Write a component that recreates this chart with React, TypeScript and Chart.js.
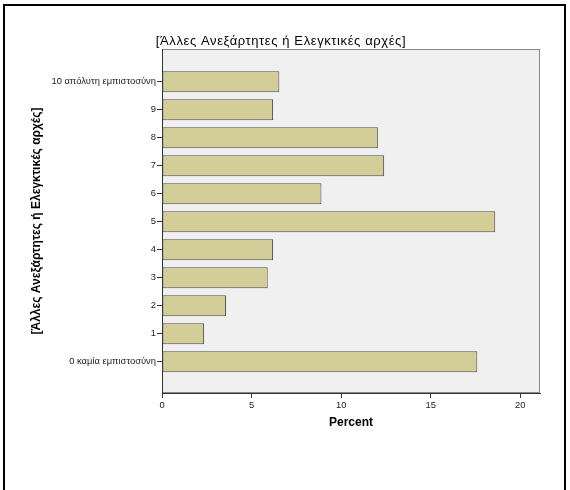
import React, { useEffect, useRef } from "react";
import { Chart, registerables } from "chart.js";

Chart.register(...registerables);

const categories = [
  "0 καμία εμπιστοσύνη",
  "1",
  "2",
  "3",
  "4",
  "5",
  "6",
  "7",
  "8",
  "9",
  "10 απόλυτη εμπιστοσύνη",
];
const percents = [17.6, 2.35, 3.57, 5.9, 6.2, 18.6, 8.9, 12.4, 12.05, 6.2, 6.55];
const xTicks = [0, 5, 10, 15, 20];
const chartTitle = "[Άλλες Ανεξάρτητες ή Ελεγκτικές αρχές]";
const xTitle = "Percent";

const FONT = "'Liberation Sans', Arial, sans-serif";

export default function App() {
  const ref = useRef<HTMLCanvasElement>(null);

  useEffect(() => {
    const canvas = ref.current;
    if (!canvas) return;
    const bgPlugin = {
      id: "plotBg",
      beforeDraw(chart: any) {
        const { ctx, chartArea: a } = chart;
        ctx.save();
        ctx.fillStyle = "#f0f0f0";
        ctx.fillRect(a.left, a.top, a.right - a.left, a.bottom - a.top);
        ctx.strokeStyle = "#8a8a8a";
        ctx.lineWidth = 1;
        ctx.strokeRect(a.left + 0.5, a.top + 0.5, a.right - a.left - 1, a.bottom - a.top - 1);
        ctx.restore();
      },
      afterDraw(chart: any) {
        const { ctx } = chart;
        ctx.save();
        ctx.font = `13px ${FONT}`;
        (ctx as any).letterSpacing = "0.6px";
        ctx.fillStyle = "#000";
        ctx.textAlign = "center";
        ctx.textBaseline = "middle";
        ctx.fillText(chartTitle, 281, 41);
        ctx.restore();
      },
    };

    const chart = new Chart(canvas, {
      type: "bar",
      data: {
        datasets: [
          {
            data: percents.map((v, i) => ({ x: v, y: i })),
            backgroundColor: "rgb(211,206,152)",
            borderColor: "#4a4a4a",
            borderWidth: 1,
            borderSkipped: false,
            barPercentage: 0.75,
            categoryPercentage: 1,
          },
        ],
      },
      options: {
        indexAxis: "y",
        responsive: false,
        animation: false,
        layout: { padding: { left: 0, top: 49, right: 30, bottom: 0 } },
        plugins: {
          legend: { display: false },
          title: { display: false },
          tooltip: { enabled: false },
        },
        scales: {
          x: {
            type: "linear",
            min: 0,
            max: 21.1,
            offset: false,
            afterBuildTicks: (s: any) => {
              s.ticks = xTicks.map((v) => ({ value: v }));
            },
            afterFit: (s: any) => {
              s.height = 97;
            },
            grid: { offset: false, drawOnChartArea: false, drawTicks: true, tickLength: 5, color: "#333" },
            border: { display: true, color: "#333", width: 1 },
            ticks: { color: "#222", font: { family: FONT, size: 9.4 }, padding: 2, maxRotation: 0 },
            title: {
              display: true,
              text: xTitle,
              color: "#000",
              font: { family: FONT, size: 12, weight: "bold" },
              padding: { top: 0, bottom: 60 },
            },
          },
          y: {
            type: "linear",
            min: -1.12,
            max: 11.17,
            offset: false,
            afterBuildTicks: (s: any) => {
              s.ticks = categories.map((_, i) => ({ value: i }));
            },
            afterFit: (s: any) => {
              s.width = 162;
            },
            grid: { offset: false, drawOnChartArea: false, drawTicks: true, tickLength: 5, color: "#333" },
            border: { display: true, color: "#333", width: 1 },
            ticks: {
              color: "#222",
              font: { family: FONT, size: 9.4 },
              padding: 1,
              autoSkip: false,
              callback: (v: any) => categories[v] ?? "",
            },
            title: {
              display: true,
              text: chartTitle,
              color: "#000",
              font: { family: FONT, size: 12, weight: "bold" },
              padding: { top: 29, bottom: 0 },
            },
          },
        },
      } as any,
      plugins: [bgPlugin],
    });
    return () => chart.destroy();
  }, []);

  return (
    <div style={{ position: "absolute", left: 0, top: 0, width: 570, height: 490, background: "#fff", overflow: "hidden" }}>
      <canvas ref={ref} width={570} height={490} style={{ position: "absolute", left: 0, top: 0 }} />
      <div
        style={{
          position: "absolute",
          left: 3,
          top: 4,
          width: 559,
          height: 520,
          borderLeft: "2px solid #000",
          borderTop: "2px solid #000",
          borderRight: "2px solid #000",
        }}
      />
    </div>
  );
}
